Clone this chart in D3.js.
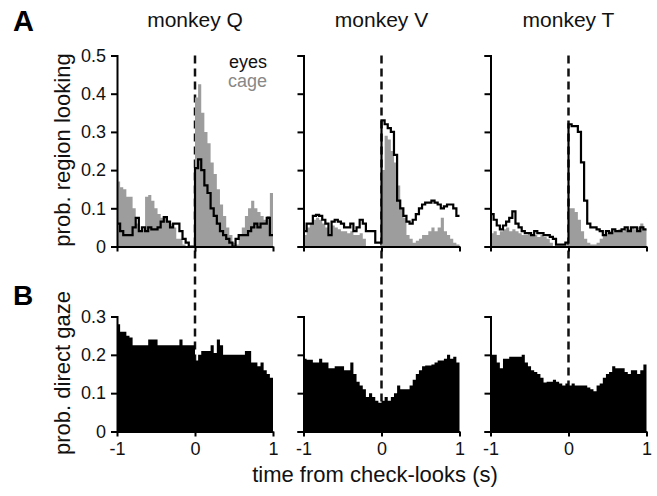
<!DOCTYPE html>
<html>
<head>
<meta charset="utf-8">
<script src="https://cdn.jsdelivr.net/npm/d3@7"></script>
<style>
  body { margin: 0; background: #fff; }
  text { font-family: "Liberation Sans", Arial, sans-serif; }
</style>
</head>
<body>
<div id="chart"></div>
<script>
// monkeys and bin layout (50 bins of 40 ms from -1 to 1 s)
var monkeys = ["monkey Q", "monkey V", "monkey T"]
var binStart = -1, binWidth = 0.04

// panel A: probability of looking at eyes (line) and cage (grey fill)
var eyesQ = [0.06,0.04,0.03,0.03,0.03,0.05,0.075,0.04,0.05,0.04,0.05,0.045,0.045,0.05,0.065,0.077,0.065,0.05,0.06,0.06,0.04,0.02,0.01,0,0,
             0.205,0.228,0.2,0.16,0.14,0.1,0.08,0.06,0.04,0.03,0.02,0.01,0,0.02,0.03,0.03,0.03,0.04,0.05,0.06,0.05,0.06,0.06,0.075,0.03]
var cageQ = [0.17,0.155,0.15,0.13,0.13,0.1,0.06,0.04,0.045,0.13,0.135,0.12,0.1,0.085,0.075,0.075,0.065,0.06,0.05,0.02,0.02,0.005,0,0,0,
             0.39,0.425,0.35,0.3,0.27,0.22,0.19,0.15,0.11,0.08,0.05,0.03,0.01,0.005,0.03,0.05,0.08,0.1,0.12,0.1,0.09,0.08,0.07,0.08,0.14]
var eyesV = [0.04,0.06,0.06,0.08,0.083,0.08,0.07,0.06,0.03,0.065,0.07,0.065,0.06,0.05,0.05,0.06,0.04,0.05,0.07,0.06,0.04,0.04,0.04,0.01,0.01,
             0.33,0.32,0.31,0.3,0.24,0.12,0.1,0.08,0.065,0.06,0.07,0.085,0.1,0.11,0.115,0.115,0.12,0.115,0.11,0.1,0.105,0.11,0.11,0.1,0.08]
var cageV = [0.03,0.05,0.06,0.07,0.075,0.07,0.06,0.05,0.03,0.055,0.05,0.045,0.04,0.04,0.035,0.04,0.03,0.03,0.035,0.02,0,0,0,0,0,
             0.2,0.29,0.28,0.25,0.22,0.16,0.1,0.075,0.03,0.02,0.01,0.015,0.02,0.03,0.03,0.04,0.05,0.04,0.05,0.075,0.04,0.03,0.02,0.01,0.005]
var eyesT = [0.085,0.07,0.055,0.045,0.055,0.065,0.075,0.092,0.06,0.05,0.04,0.035,0.035,0.03,0.04,0.035,0.035,0.03,0.03,0.025,0.02,0.005,0.005,0.005,0.01,
             0.32,0.315,0.315,0.3,0.22,0.12,0.06,0.05,0.05,0.045,0.04,0.03,0.04,0.035,0.045,0.04,0.04,0.045,0.05,0.04,0.05,0.05,0.04,0.05,0.045]
var cageT = [0.035,0.04,0.03,0.04,0.045,0.05,0.04,0.045,0.04,0.035,0.03,0.03,0.035,0.03,0.03,0.025,0.03,0.025,0.02,0.01,0,0,0,0,0,
             0.1,0.1,0.09,0.07,0.04,0.02,0.01,0.005,0.005,0.01,0.02,0.03,0.035,0.04,0.04,0.04,0.045,0.04,0.045,0.045,0.05,0.045,0.05,0.06,0.045]

// panel B: probability of direct gaze
var gazeQ = [0.28,0.26,0.26,0.25,0.245,0.225,0.225,0.225,0.225,0.225,0.24,0.24,0.24,0.225,0.225,0.225,0.225,0.225,0.225,0.225,0.24,0.225,0.225,0.225,0.225,
             0.185,0.2,0.21,0.21,0.21,0.225,0.205,0.24,0.225,0.2,0.2,0.2,0.2,0.2,0.2,0.2,0.21,0.21,0.18,0.18,0.17,0.18,0.16,0.15,0.14]
var gazeV = [0.19,0.187,0.187,0.18,0.18,0.19,0.18,0.18,0.165,0.165,0.17,0.17,0.17,0.16,0.16,0.18,0.15,0.13,0.12,0.11,0.09,0.1,0.09,0.08,0.075,
             0.08,0.09,0.08,0.09,0.1,0.12,0.11,0.11,0.11,0.12,0.135,0.15,0.16,0.17,0.172,0.172,0.175,0.18,0.185,0.185,0.19,0.2,0.19,0.195,0.18]
var gazeT = [0.2,0.2,0.18,0.165,0.19,0.19,0.195,0.195,0.195,0.195,0.2,0.18,0.17,0.16,0.155,0.15,0.14,0.128,0.13,0.13,0.135,0.13,0.125,0.12,0.125,
             0.12,0.125,0.12,0.12,0.12,0.12,0.115,0.11,0.105,0.12,0.125,0.14,0.15,0.155,0.17,0.165,0.165,0.165,0.155,0.15,0.16,0.16,0.15,0.16,0.175]

var ticksA = [0, 0.1, 0.2, 0.3, 0.4, 0.5]
var ticksB = [0, 0.1, 0.2, 0.3]
var ticksX = [-1, 0, 1]

var eyes = [eyesQ, eyesV, eyesT]
var cage = [cageQ, cageV, cageT]
var gaze = [gazeQ, gazeV, gazeT]

var width = 657
height = 496
var panelLeft = [117, 303.5, 490.5]
var panelW = 156
var grey = "#9d9d9d"

var svg = d3.select("#chart")
    .append("svg")
    .attr("width", width)
    .attr("height", height)

svg.append("rect").attr("width", width).attr("height", height).attr("fill", "#fff")

var yA = d3.scaleLinear().domain([0, 0.5]).range([246.5, 55.5])
var yB = d3.scaleLinear().domain([0, 0.3]).range([431.5, 316.5])

// turn binned values into step points, closing at x = 1
function steps(vals) {
    var pts = vals.map(function (v, i) { return [binStart + i * binWidth, v] })
    pts.push([binStart + vals.length * binWidth, vals[vals.length - 1]])
    return pts
}

monkeys.forEach(function (name, k) {
    var x = d3.scaleLinear().domain([-1, 1]).range([panelLeft[k], panelLeft[k] + panelW])
    var g = svg.append("g")

    // dashed line at the check-look
    g.append("line")
        .attr("x1", x(0)).attr("x2", x(0))
        .attr("y1", yA(0.5)).attr("y2", yB(0))
        .attr("stroke", "#111")
        .attr("stroke-width", 2.5)
        .attr("stroke-dasharray", "8,5")

    // A: cage fill and eyes outline
    var areaA = d3.area()
        .x(function (d) { return x(d[0]) })
        .y0(yA(0))
        .y1(function (d) { return yA(d[1]) })
        .curve(d3.curveStepAfter)
    g.append("path")
        .attr("d", areaA(steps(cage[k])))
        .attr("fill", grey)

    var lineA = d3.line()
        .x(function (d) { return x(d[0]) })
        .y(function (d) { return yA(d[1]) })
        .curve(d3.curveStepAfter)
    g.append("path")
        .attr("d", lineA(steps(eyes[k])))
        .attr("fill", "none")
        .attr("stroke", "#000")
        .attr("stroke-width", 2.2)

    // B: direct gaze
    var areaB = d3.area()
        .x(function (d) { return x(d[0]) })
        .y0(yB(0))
        .y1(function (d) { return yB(d[1]) })
        .curve(d3.curveStepAfter)
    g.append("path")
        .attr("d", areaB(steps(gaze[k])))
        .attr("fill", "#000")

    // axes
    var axA = g.append("g")
        .attr("transform", "translate(" + panelLeft[k] + ",0)")
        .call(d3.axisLeft(yA).tickValues(ticksA).tickSize(6)
            .tickFormat(k == 0 ? d3.format("") : ""))
    var axB = g.append("g")
        .attr("transform", "translate(" + panelLeft[k] + ",0)")
        .call(d3.axisLeft(yB).tickValues(ticksB).tickSize(6)
            .tickFormat(k == 0 ? d3.format("") : ""))
    var axXA = g.append("g")
        .attr("transform", "translate(0," + yA(0) + ")")
        .call(d3.axisBottom(x).tickValues(ticksX).tickSize(5).tickSizeOuter(0).tickFormat(""))
    var axXB = g.append("g")
        .attr("transform", "translate(0," + yB(0) + ")")
        .call(d3.axisBottom(x).tickValues(ticksX).tickSize(5).tickSizeOuter(0)
            .tickFormat(function (d) { return String(d) }))

    svg.selectAll(".domain, .tick line").attr("stroke", "#000").attr("stroke-width", 2)
    ;[axA, axB].forEach(function (a) {
        a.selectAll("text").attr("font-size", 18).attr("fill", "#111").attr("x", -11)
    })
    axXB.selectAll("text").attr("font-size", 18).attr("fill", "#111").attr("y", 11)

    // title
    svg.append("text")
        .attr("x", x(0)).attr("y", 27)
        .attr("text-anchor", "middle")
        .attr("font-size", 21)
        .attr("fill", "#111")
        .text(name)
})

svg.selectAll("text").style("font-family", "'Liberation Sans', Arial, sans-serif")

// legend
svg.append("text").attr("x", 267).attr("y", 68).attr("text-anchor", "end")
    .attr("font-size", 18).attr("fill", "#111").text("eyes")
svg.append("text").attr("x", 267).attr("y", 87).attr("text-anchor", "end")
    .attr("font-size", 18).attr("fill", "#888").text("cage")

// panel letters
svg.append("text").attr("x", 13).attr("y", 31).attr("font-size", 29)
    .attr("font-weight", "bold").text("A")
svg.append("text").attr("x", 13).attr("y", 305).attr("font-size", 28)
    .attr("font-weight", "bold").text("B")

// axis labels
svg.append("text").attr("transform", "translate(70,150) rotate(-90)")
    .attr("text-anchor", "middle").attr("font-size", 22).attr("fill", "#111")
    .text("prob. region looking")
svg.append("text").attr("transform", "translate(70,373) rotate(-90)")
    .attr("text-anchor", "middle").attr("font-size", 22).attr("fill", "#111")
    .text("prob. direct gaze")
svg.append("text").attr("x", 375).attr("y", 482)
    .attr("text-anchor", "middle").attr("font-size", 22).attr("fill", "#111")
    .text("time from check-looks (s)")
</script>
</body>
</html>
